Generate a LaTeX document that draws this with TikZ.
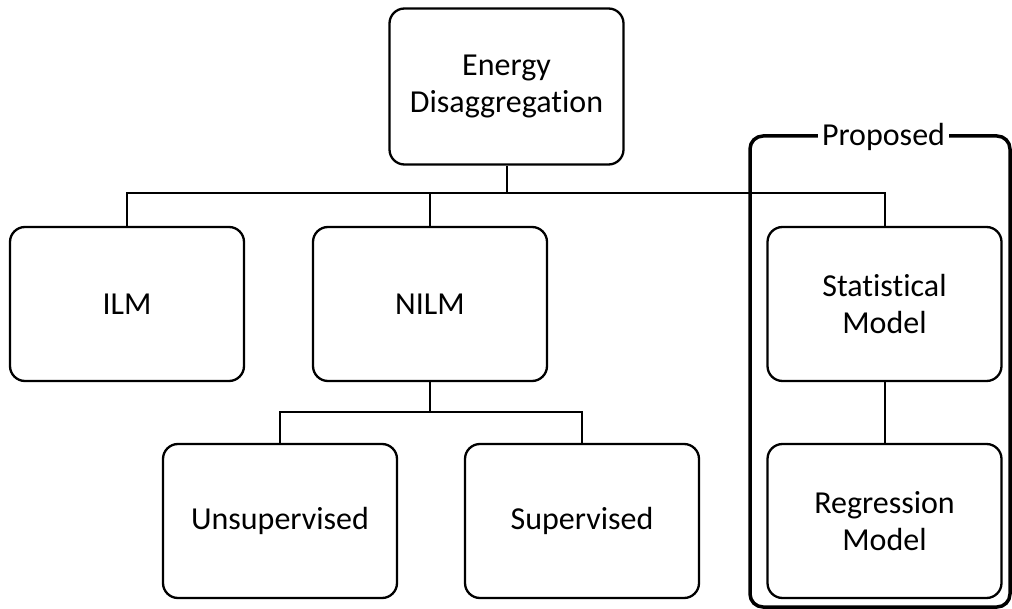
\documentclass[tikz,border=0pt]{standalone}
\usepackage{fontspec}
\setmainfont{Carlito}[Ligatures={NoCommon,NoRequired,NoContextual}]
\begin{document}
\begin{tikzpicture}[x=1pt,y=-1pt,
  box/.style={draw,line width=2.3pt,rounded corners=15pt,minimum width=234pt,minimum height=154pt,inner sep=0pt,align=center,font=\fontsize{32}{37}\selectfont},
  conn/.style={line width=2pt},
  bracket/.style={line width=3.5pt,rounded corners=13pt}]
\useasboundingbox (0,0) rectangle (1012,609);
\node[box,minimum height=156pt] (top) at (506.5,86.5) {Energy\\Disaggregation};
\node[box] (ilm) at (127,304) {ILM};
\node[box] (nilm) at (430,304) {NILM};
\node[box] (stat) at (884.5,304) {Statistical\\Model};
\node[box] (unsup) at (280,521) {Unsupervised};
\node[box] (sup) at (582,521) {Supervised};
\node[box] (regr) at (884.5,521) {Regression\\Model};
\coordinate (bus1) at (0,193);
\coordinate (bus2) at (0,412);
\draw[conn] (top.south) -- (top.south |- bus1);
\draw[conn] (ilm.north) -- (ilm.north |- bus1) -- (stat.north |- bus1) -- (stat.north);
\draw[conn] (nilm.north) -- (nilm.north |- bus1);
\draw[conn] (nilm.south) -- (nilm.south |- bus2);
\draw[conn] (unsup.north) -- (unsup.north |- bus2) -- (sup.north |- bus2) -- (sup.north);
\draw[conn] (stat.south) -- (regr.north);
\coordinate (bl) at (750,607);
\coordinate (tr) at (1010,136);
\draw[bracket] (bl) rectangle (tr);
\node[fill=white,inner xsep=4pt,inner ysep=2pt,anchor=base,font=\fontsize{32}{37}\selectfont] (prop) at (883.5,146) {Proposed};
\end{tikzpicture}
\end{document}
